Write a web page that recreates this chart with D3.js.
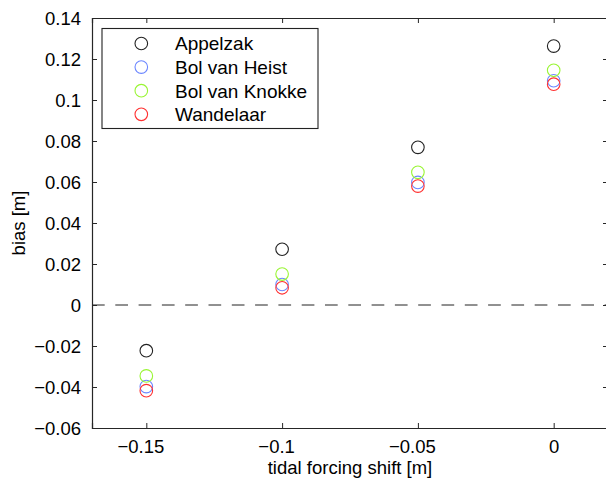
<!DOCTYPE html>
<html>
<head>
<meta charset="utf-8">
<script src="https://cdn.jsdelivr.net/npm/d3@7"></script>
<style>
  body { margin: 0; background: #fff; }
  text { font-family: "Liberation Sans", Arial, sans-serif; fill: #000; }
</style>
</head>
<body>
<svg id="svgMain" width="606" height="479"></svg>
<script>
// data
const shifts = [-0.15, -0.1, -0.05, 0];
const stations = ["Appelzak", "Bol van Heist", "Bol van Knokke", "Wandelaar"];
const stationColors = ["#222222", "#6b86ff", "#99f533", "#ff3030"];
const appelzak = [-0.0223, 0.0272, 0.0769, 0.1263];
const bolVanHeist = [-0.0398, 0.0100, 0.0598, 0.1094];
const bolVanKnokke = [-0.0346, 0.0151, 0.0647, 0.1145];
const wandelaar = [-0.0418, 0.0084, 0.0580, 0.1077];
const xTicks = [-0.15, -0.1, -0.05, 0];
const yTicks = [-0.06, -0.04, -0.02, 0, 0.02, 0.04, 0.06, 0.08, 0.1, 0.12, 0.14];

const seriesValues = [appelzak, bolVanHeist, bolVanKnokke, wandelaar];

let svgMain = d3.select("#svgMain");
const margin = { top: 18, right: -2, bottom: 51, left: 92 };
const plotWidth = 606 - margin.left - margin.right;
const plotHeight = 479 - margin.top - margin.bottom;
const fontSize = "18.5px";

const xScale = d3.scaleLinear().domain([-0.17, 0.02]).range([0, plotWidth]);
const yScale = d3.scaleLinear().domain([-0.06, 0.14]).range([plotHeight, 0]);

const fmt = d => (d < 0 ? "\u2212" : "") + d3.format("~g")(Math.abs(d));

const plot = svgMain.append("g")
    .attr("transform", "translate(" + margin.left + "," + margin.top + ")");

// zero line (dashed)
plot.append("line")
    .attr("x1", 0).attr("x2", plotWidth)
    .attr("y1", yScale(0)).attr("y2", yScale(0))
    .attr("stroke", "#222")
    .attr("stroke-width", 1)
    .attr("stroke-dasharray", "12.7,10.6");

// axes with inward ticks
const axisColor = "#262626";
let xAxis = d3.axisBottom(xScale).tickValues(xTicks).tickSize(-5).tickPadding(10).tickFormat(fmt);
let gx = plot.append("g")
    .attr("transform", "translate(0," + plotHeight + ")")
    .call(xAxis);
let xTop = d3.axisTop(xScale).tickValues(xTicks).tickSize(-5).tickFormat("");
let gxt = plot.append("g").call(xTop);

let yAxis = d3.axisLeft(yScale).tickValues(yTicks).tickSize(-5).tickPadding(11).tickFormat(fmt);
let gy = plot.append("g").call(yAxis);
let yRight = d3.axisRight(yScale).tickValues(yTicks).tickSize(-5).tickFormat("");
let gyr = plot.append("g").attr("transform", "translate(" + plotWidth + ",0)").call(yRight);

[gx, gxt, gy, gyr].forEach(g => {
    g.select(".domain").attr("stroke", axisColor).attr("stroke-width", 1.2);
    g.selectAll(".tick line").attr("stroke", axisColor);
    g.selectAll(".tick text")
        .style("font-family", "'Liberation Sans', Arial, sans-serif")
        .style("font-size", fontSize)
        .attr("fill", "#111");
});
// minus sign hangs to the left of the centred number
gx.selectAll(".tick text").attr("dy", "0.8em").attr("dx", d => d < 0 ? -6 : 0);
gy.selectAll(".tick text").attr("dy", "0.35em");

// markers
seriesValues.forEach((vals, si) => {
    plot.append("g").selectAll("circle")
        .data(vals)
        .enter().append("circle")
        .attr("cx", (d, i) => xScale(shifts[i]))
        .attr("cy", d => yScale(d))
        .attr("r", 6.3)
        .attr("fill", "none")
        .attr("stroke", stationColors[si])
        .attr("stroke-width", 1.1);
});

// legend
const legend = svgMain.append("g");
legend.append("rect")
    .attr("x", 102).attr("y", 28.5)
    .attr("width", 216).attr("height", 100)
    .attr("fill", "#fff")
    .attr("stroke", "#222").attr("stroke-width", 1.1);
const legendRow = d3.scaleLinear().domain([0, 3]).range([43.5, 114.3]);
stations.forEach((name, i) => {
    legend.append("circle")
        .attr("cx", 141.3).attr("cy", legendRow(i))
        .attr("r", 6.3)
        .attr("fill", "none")
        .attr("stroke", stationColors[i])
        .attr("stroke-width", 1.1);
    legend.append("text")
        .attr("x", 175).attr("y", legendRow(i))
        .attr("dy", "0.36em")
        .attr("font-size", "19px")
        .text(name);
});

// axis labels
svgMain.append("text")
    .attr("x", margin.left + xScale(-0.075))
    .attr("y", 474)
    .attr("font-size", fontSize)
    .attr("text-anchor", "middle")
    .text("tidal forcing shift [m]");

svgMain.append("text")
    .attr("transform", "translate(25," + (margin.top + plotHeight / 2) + ") rotate(-90)")
    .attr("font-size", fontSize)
    .attr("text-anchor", "middle")
    .text("bias [m]");
</script>
</body>
</html>
